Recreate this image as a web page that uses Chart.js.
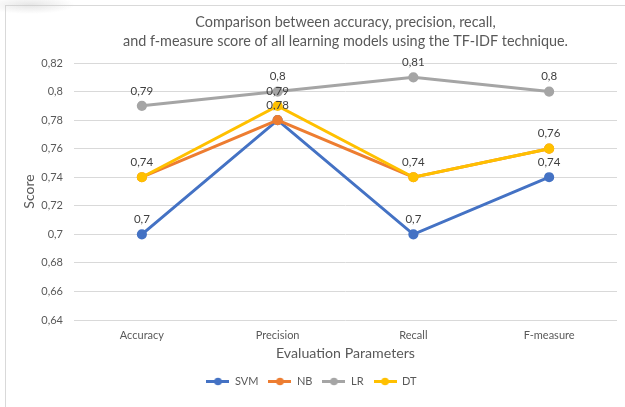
<!DOCTYPE html>
<html>
<head>
<meta charset="utf-8">
<script src="https://cdn.jsdelivr.net/npm/chart.js@4/dist/chart.umd.min.js"></script>
<style>
  html, body { margin: 0; padding: 0; background: #fff; overflow: hidden; }
  #wrap { position: relative; width: 625px; height: 407px; }
  #frame { position: absolute; left: 5px; top: 5px; right: 0; bottom: 0;
           border-left: 1px solid #d9d9d9; border-top: 1px solid #d9d9d9; pointer-events: none; }
  #corner { position: absolute; left: 0; top: 0; width: 80px; height: 16px; pointer-events: none;
            background: radial-gradient(ellipse 45px 9px at 30px 5px, rgba(200,200,200,0.45), rgba(255,255,255,0)); }
  canvas { position: absolute; left: 0; top: 0; }
</style>
</head>
<body>
<div id="wrap">
  <canvas id="chart" width="625" height="407"></canvas>
  <div id="frame"></div>
  <div id="corner"></div>
</div>
<script>
// Evaluation parameters on the x axis
const categories = ['Accuracy', 'Precision', 'Recall', 'F-measure'];

// Scores per learning model (TF-IDF features)
const svmScores = [0.70, 0.78, 0.70, 0.74];
const nbScores  = [0.74, 0.78, 0.74, 0.76];
const lrScores  = [0.79, 0.80, 0.81, 0.80];
const dtScores  = [0.74, 0.79, 0.74, 0.76];

// Y axis range and step
const yMin = 0.64;
const yMax = 0.82;
const yStep = 0.02;

const titleLines = [
  'Comparison between accuracy, precision, recall,',
  'and f-measure score of all learning models using the TF-IDF technique.'
];

const FONT = 'Lato, "Open Sans", "DejaVu Sans", sans-serif';
const TEXT = '#595959';
const GRID = '#d9d9d9';

const fmt = v => String(Number(v.toFixed(2))).replace('.', ',');

// Legend icon: short line with a dot in the middle
function legendIcon(color) {
  const c = document.createElement('canvas');
  c.width = 23; c.height = 9;
  const g = c.getContext('2d');
  g.strokeStyle = color; g.lineWidth = 3;
  g.beginPath(); g.moveTo(0, 4.5); g.lineTo(23, 4.5); g.stroke();
  g.fillStyle = color;
  g.beginPath(); g.arc(11.5, 4.5, 3.8, 0, Math.PI * 2); g.fill();
  return c;
}

// Value labels above each point (identical labels at the same spot are drawn once)
const valueLabels = {
  id: 'valueLabels',
  afterDatasetsDraw(chart) {
    const ctx = chart.ctx;
    const seen = new Set();
    ctx.save();
    ctx.font = '11.5px ' + FONT;
    ctx.fillStyle = '#404040';
    ctx.textAlign = 'center';
    ctx.textBaseline = 'middle';
    chart.data.datasets.forEach((ds, i) => {
      const meta = chart.getDatasetMeta(i);
      meta.data.forEach((pt, j) => {
        const text = fmt(ds.data[j]);
        const key = text + '@' + Math.round(pt.x) + ',' + Math.round(pt.y);
        if (seen.has(key)) return;
        seen.add(key);
        ctx.fillText(text, pt.x, pt.y - 15);
      });
    });
    ctx.restore();
  }
};

function series(label, data, color, order) {
  return {
    label, data, order,
    borderColor: color, backgroundColor: color,
    pointBackgroundColor: color, pointBorderColor: color,
    borderWidth: 3, pointRadius: 3.6, pointHoverRadius: 3.6,
    tension: 0, fill: false
  };
}

new Chart(document.getElementById('chart'), {
  type: 'line',
  data: {
    labels: categories,
    datasets: [
      series('SVM', svmScores, '#4472C4', 3),
      series('NB',  nbScores,  '#ED7D31', 2),
      series('LR',  lrScores,  '#A5A5A5', 1),
      series('DT',  dtScores,  '#FFC000', 0)
    ]
  },
  plugins: [valueLabels],
  options: {
    responsive: false,
    animation: false,
    events: [],
    layout: { padding: { left: 6, right: 8, top: 6, bottom: 10 } },
    plugins: {
      title: {
        display: true,
        text: titleLines,
        fullSize: false,
        color: TEXT,
        font: { family: FONT, size: 14.4, weight: 'normal', lineHeight: 1.32 },
        padding: { top: 6.5, bottom: 12.5 }
      },
      legend: {
        position: 'bottom',
        labels: {
          usePointStyle: true,
          pointStyleWidth: 23,
          padding: 10,
          color: TEXT,
          font: { family: FONT, size: 11 },
          generateLabels: (chart) => chart.data.datasets.map((ds, i) => ({
            text: ds.label,
            pointStyle: legendIcon(ds.borderColor),
            fillStyle: ds.borderColor,
            strokeStyle: ds.borderColor,
            lineWidth: 0,
            hidden: false,
            datasetIndex: i,
            fontColor: TEXT
          }))
        }
      },
      tooltip: { enabled: false }
    },
    scales: {
      x: {
        offset: true,
        grid: { display: false, drawTicks: false },
        border: { display: false },
        ticks: { color: TEXT, font: { family: FONT, size: 11 }, padding: 9 },
        title: {
          display: true, text: 'Evaluation Parameters', color: TEXT,
          font: { family: FONT, size: 14.2 }, padding: { top: 4, bottom: 4.4 }
        },
        afterFit: (s) => { s.height = 46; }
      },
      y: {
        min: yMin, max: yMax,
        grid: { color: GRID, lineWidth: 1, drawTicks: false },
        border: { display: false },
        ticks: {
          stepSize: yStep, color: TEXT, padding: 11,
          font: { family: FONT, size: 11 },
          callback: (v) => fmt(v)
        },
        title: {
          display: true, text: 'Score', color: TEXT,
          font: { family: FONT, size: 14 }, padding: { top: 15.4, bottom: 4 }
        },
        afterFit: (s) => { s.width = 68; }
      }
    }
  }
});
</script>
</body>
</html>
